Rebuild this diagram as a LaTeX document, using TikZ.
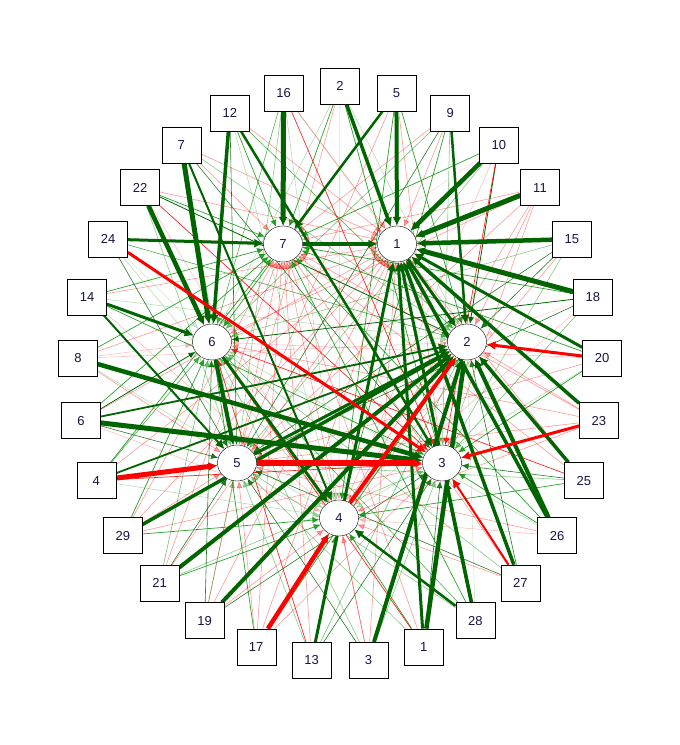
\documentclass[tikz,border=0pt]{standalone}
\usepackage{fontspec}
\setmainfont{Liberation Sans}
\usetikzlibrary{shapes.geometric, arrows.meta, backgrounds}
\definecolor{posdark}{RGB}{0,100,0}
\definecolor{posmid}{RGB}{20,150,20}
\definecolor{negred}{RGB}{255,0,0}
\definecolor{labelink}{RGB}{20,20,70}

\begin{document}
\begin{tikzpicture}[x=1pt, y=1pt]
    \tikzstyle{factor} = [ellipse, draw, fill=white, minimum width=39pt, minimum height=36pt, inner sep=0pt, font=\fontsize{13}{13}\selectfont, text=labelink]
    \tikzstyle{item} = [rectangle, draw, fill=white, minimum width=39pt, minimum height=36pt, inner sep=0pt, font=\fontsize{13}{13}\selectfont, text=labelink]
    \tikzstyle{load} = [-{Latex[length=7pt, width=6pt]}]
    \tikzstyle{strong} = [-{Latex[length=9pt, width=9pt]}]
    \tikzstyle{tie0} = [load, draw=posdark, line width=0.8pt]
    \tikzstyle{tie1} = [load, draw=posmid, line width=0.7pt, opacity=0.9]
    \tikzstyle{tie2} = [load, draw=posmid, line width=0.6pt, opacity=0.75]
    \tikzstyle{tie3} = [load, draw=posmid, line width=0.6pt, opacity=0.5]
    \tikzstyle{tie4} = [load, draw=posmid, line width=0.6pt, opacity=0.3]
    \tikzstyle{tie5} = [load, draw=negred, line width=0.7pt, opacity=0.85]
    \tikzstyle{tie6} = [load, draw=posmid, line width=0.6pt, opacity=0.2]
    \tikzstyle{tie7} = [load, draw=negred, line width=0.6pt, opacity=0.4]
    \tikzstyle{tie8} = [load, draw=negred, line width=0.6pt, opacity=0.15]
    \tikzstyle{tie9} = [load, draw=posmid, line width=0.6pt, opacity=0.6]
    \tikzstyle{tie10} = [load, draw=negred, line width=0.6pt, opacity=0.25]
    \tikzstyle{tie11} = [load, draw=posdark, line width=0.6pt, opacity=0.85]

    \useasboundingbox (0,0) rectangle (680,745);

    \node [factor] (c1) at (397,501) {1};
    \node [factor] (c2) at (467,403) {2};
    \node [factor] (c3) at (442,282) {3};
    \node [factor] (c4) at (339,227) {4};
    \node [factor] (c5) at (237,282) {5};
    \node [factor] (c6) at (212,403) {6};
    \node [factor] (c7) at (283,501) {7};

    \begin{scope}[shift={(340,371)}]
        \foreach \lab [count=\i from 0] in {2,5,9,10,11,15,18,20,23,25,26,27,28,1,3,13,17,19,21,29,4,6,8,14,24,22,7,12,16}
            \node [item] (s\lab) at ({90-\i*360/29}:262.4 and 287.9) {\lab};
    \end{scope}

    \begin{scope}[on background layer]
        \foreach \s in {1,...,29}
            \foreach \c in {1,...,7} {
                \pgfmathtruncatemacro\k{mod(\s*17+\c*31+\s*\c*7,12)}
                \draw [tie\k] (s\s) -- (c\c);
            }
        \foreach \a/\b/\w in {s16/c7/5, s2/c1/3.5, s5/c1/4, s5/c7/2.5, s9/c2/2.5, s10/c1/4.5, s11/c1/5, s15/c1/4.5, s18/c1/5, s20/c1/3, s23/c1/3.5, s25/c2/3.5, s26/c2/4, s26/c1/3.5, s27/c1/3.5, s28/c1/3, s28/c3/3.5, s28/c4/2.5, s1/c2/4.5, s1/c1/3, s3/c2/4, s13/c1/3, s19/c2/4, s21/c2/4, s29/c2/3.5, s4/c2/1.8, s6/c2/1.8, s14/c6/3, s14/c5/2, s7/c6/5, s7/c4/2, s22/c6/4.5, s12/c6/3.5, s12/c3/2.5, s24/c7/3, s8/c3/4.5, s6/c3/5, c7/c1/3.5, c6/c5/4, c6/c4/3, c1/c2/3, c5/c2/3}
            \draw [strong, draw=posdark, line width=\w pt] (\a) -- (\b);
        \foreach \a/\b/\w in {s24/c3/3, s4/c5/5, c5/c3/5.5, s17/c4/4.5, c4/c2/4, s20/c2/3, s23/c3/3, s27/c3/2}
            \draw [strong, draw=negred, line width=\w pt] (\a) -- (\b);
    \end{scope}
\end{tikzpicture}
\end{document}
